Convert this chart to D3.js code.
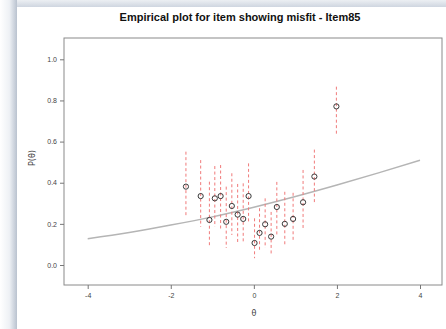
<!DOCTYPE html>
<html><head><meta charset="utf-8">
<script src="https://cdn.jsdelivr.net/npm/d3@7"></script>
<style>html,body{margin:0;padding:0;background:#fff;}svg{display:block;}</style>
</head><body>
<script>
const titleText = "Empirical plot for item showing misfit - Item85";
const xTicks = [-4, -2, 0, 2, 4];
const yTicks = [0.0, 0.2, 0.4, 0.6, 0.8, 1.0];
const theta = [-1.635,-1.28,-1.07,-0.94,-0.80,-0.665,-0.53,-0.39,-0.256,-0.127,0.017,0.137,0.272,0.416,0.553,0.745,0.945,1.185,1.457,1.987];
const pObs  = [0.381,0.335,0.219,0.324,0.335,0.210,0.287,0.245,0.224,0.335,0.107,0.156,0.198,0.138,0.282,0.200,0.224,0.305,0.430,0.771];
const pLow  = [0.235,0.186,0.089,0.186,0.170,0.083,0.146,0.105,0.105,0.203,0.033,0.073,0.083,0.049,0.141,0.089,0.122,0.178,0.300,0.632];
const pHigh = [0.551,0.510,0.405,0.481,0.486,0.381,0.446,0.394,0.397,0.494,0.227,0.276,0.324,0.258,0.404,0.356,0.351,0.462,0.561,0.867];
const curveTheta = [-4,-3,-2,-1,0,1,2,3,4];
const curveP = [0.128,0.158,0.194,0.234,0.281,0.333,0.389,0.448,0.509];

const W = 446, H = 329;
const svg = d3.select("body").append("svg").attr("width", W).attr("height", H);
const defs = svg.append("defs");
const gl = defs.append("linearGradient").attr("id","gl").attr("x1","0").attr("x2","1").attr("y1","0").attr("y2","0");
gl.append("stop").attr("offset","0").attr("stop-color","#ffffff");
gl.append("stop").attr("offset","0.55").attr("stop-color","#eef1f5");
gl.append("stop").attr("offset","1").attr("stop-color","#b9c2cf");
const gt = defs.append("linearGradient").attr("id","gt").attr("x1","0").attr("x2","0").attr("y1","0").attr("y2","1");
gt.append("stop").attr("offset","0").attr("stop-color","#eceff3");
gt.append("stop").attr("offset","1").attr("stop-color","#cfd6e0");

svg.append("rect").attr("x",0).attr("y",0).attr("width",W).attr("height",H).attr("fill","#fff");
svg.append("rect").attr("x",13).attr("y",0).attr("width",W-13).attr("height",7).attr("fill","url(#gt)");
svg.append("rect").attr("x",0).attr("y",0).attr("width",17).attr("height",H).attr("fill","url(#gl)");
svg.append("rect").attr("x",17).attr("y",7).attr("width",W-17).attr("height",H-7).attr("fill","#fff");

const x = d3.scaleLinear().domain([-4,4]).range([87.7,420]);
const y = d3.scaleLinear().domain([0,1]).range([265,59.3]);
const box = {l:64, r:442, t:38, b:285};

svg.append("text").attr("x",240).attr("y",21).attr("text-anchor","middle")
  .attr("font-family","Liberation Sans, Arial, sans-serif").attr("font-weight","bold")
  .attr("font-size",11).attr("fill","#111").text(titleText);

svg.append("rect").attr("x",box.l).attr("y",box.t).attr("width",box.r-box.l).attr("height",box.b-box.t)
  .attr("fill","none").attr("stroke","#8a8a8a").attr("stroke-width",1);

const xAxis = d3.axisBottom(x).tickValues(xTicks).tickSize(4).tickPadding(4).tickFormat(d3.format("d"));
const gx = svg.append("g").attr("transform",`translate(0,${box.b})`).call(xAxis);
gx.select(".domain").remove();
const yAxis = d3.axisLeft(y).tickValues(yTicks).tickSize(4).tickPadding(3).tickFormat(d3.format(".1f"));
const gy = svg.append("g").attr("transform",`translate(${box.l},0)`).call(yAxis);
gy.select(".domain").remove();
[gx,gy].forEach(g=>{
  g.selectAll("line").attr("stroke","#777");
  g.selectAll("text").attr("font-family","Liberation Sans, Arial, sans-serif").attr("font-size",7).attr("fill","#444");
});
gx.selectAll("text").text(d=> d<0 ? "-"+Math.abs(d) : d);

svg.append("text").attr("x",254).attr("y",316).attr("text-anchor","middle")
  .attr("font-family","DejaVu Sans, sans-serif").attr("font-size",8).attr("fill","#444").text("θ");
svg.append("text").attr("transform","translate(35,158) rotate(-90)").attr("text-anchor","middle")
  .attr("font-family","DejaVu Sans, sans-serif").attr("font-size",8).attr("fill","#444").text("P(θ)");

const line = d3.line().x((d,i)=>x(curveTheta[i])).y(d=>y(d)).curve(d3.curveMonotoneX);
svg.append("path").datum(curveP).attr("d",line).attr("fill","none")
  .attr("stroke","#b5b5b5").attr("stroke-width",1.5);

const idx = d3.range(theta.length);
svg.append("g").selectAll("line").data(idx).join("line")
  .attr("x1",i=>x(theta[i])).attr("x2",i=>x(theta[i]))
  .attr("y1",i=>y(pHigh[i])).attr("y2",i=>y(pLow[i]))
  .attr("stroke","#f07a7a").attr("stroke-width",1).attr("stroke-dasharray","3,2.5");

svg.append("g").selectAll("circle").data(idx).join("circle")
  .attr("cx",i=>x(theta[i])).attr("cy",i=>y(pObs[i])).attr("r",2.6)
  .attr("fill","none").attr("stroke","#3a3a3a").attr("stroke-width",1);
</script>
</body></html>
